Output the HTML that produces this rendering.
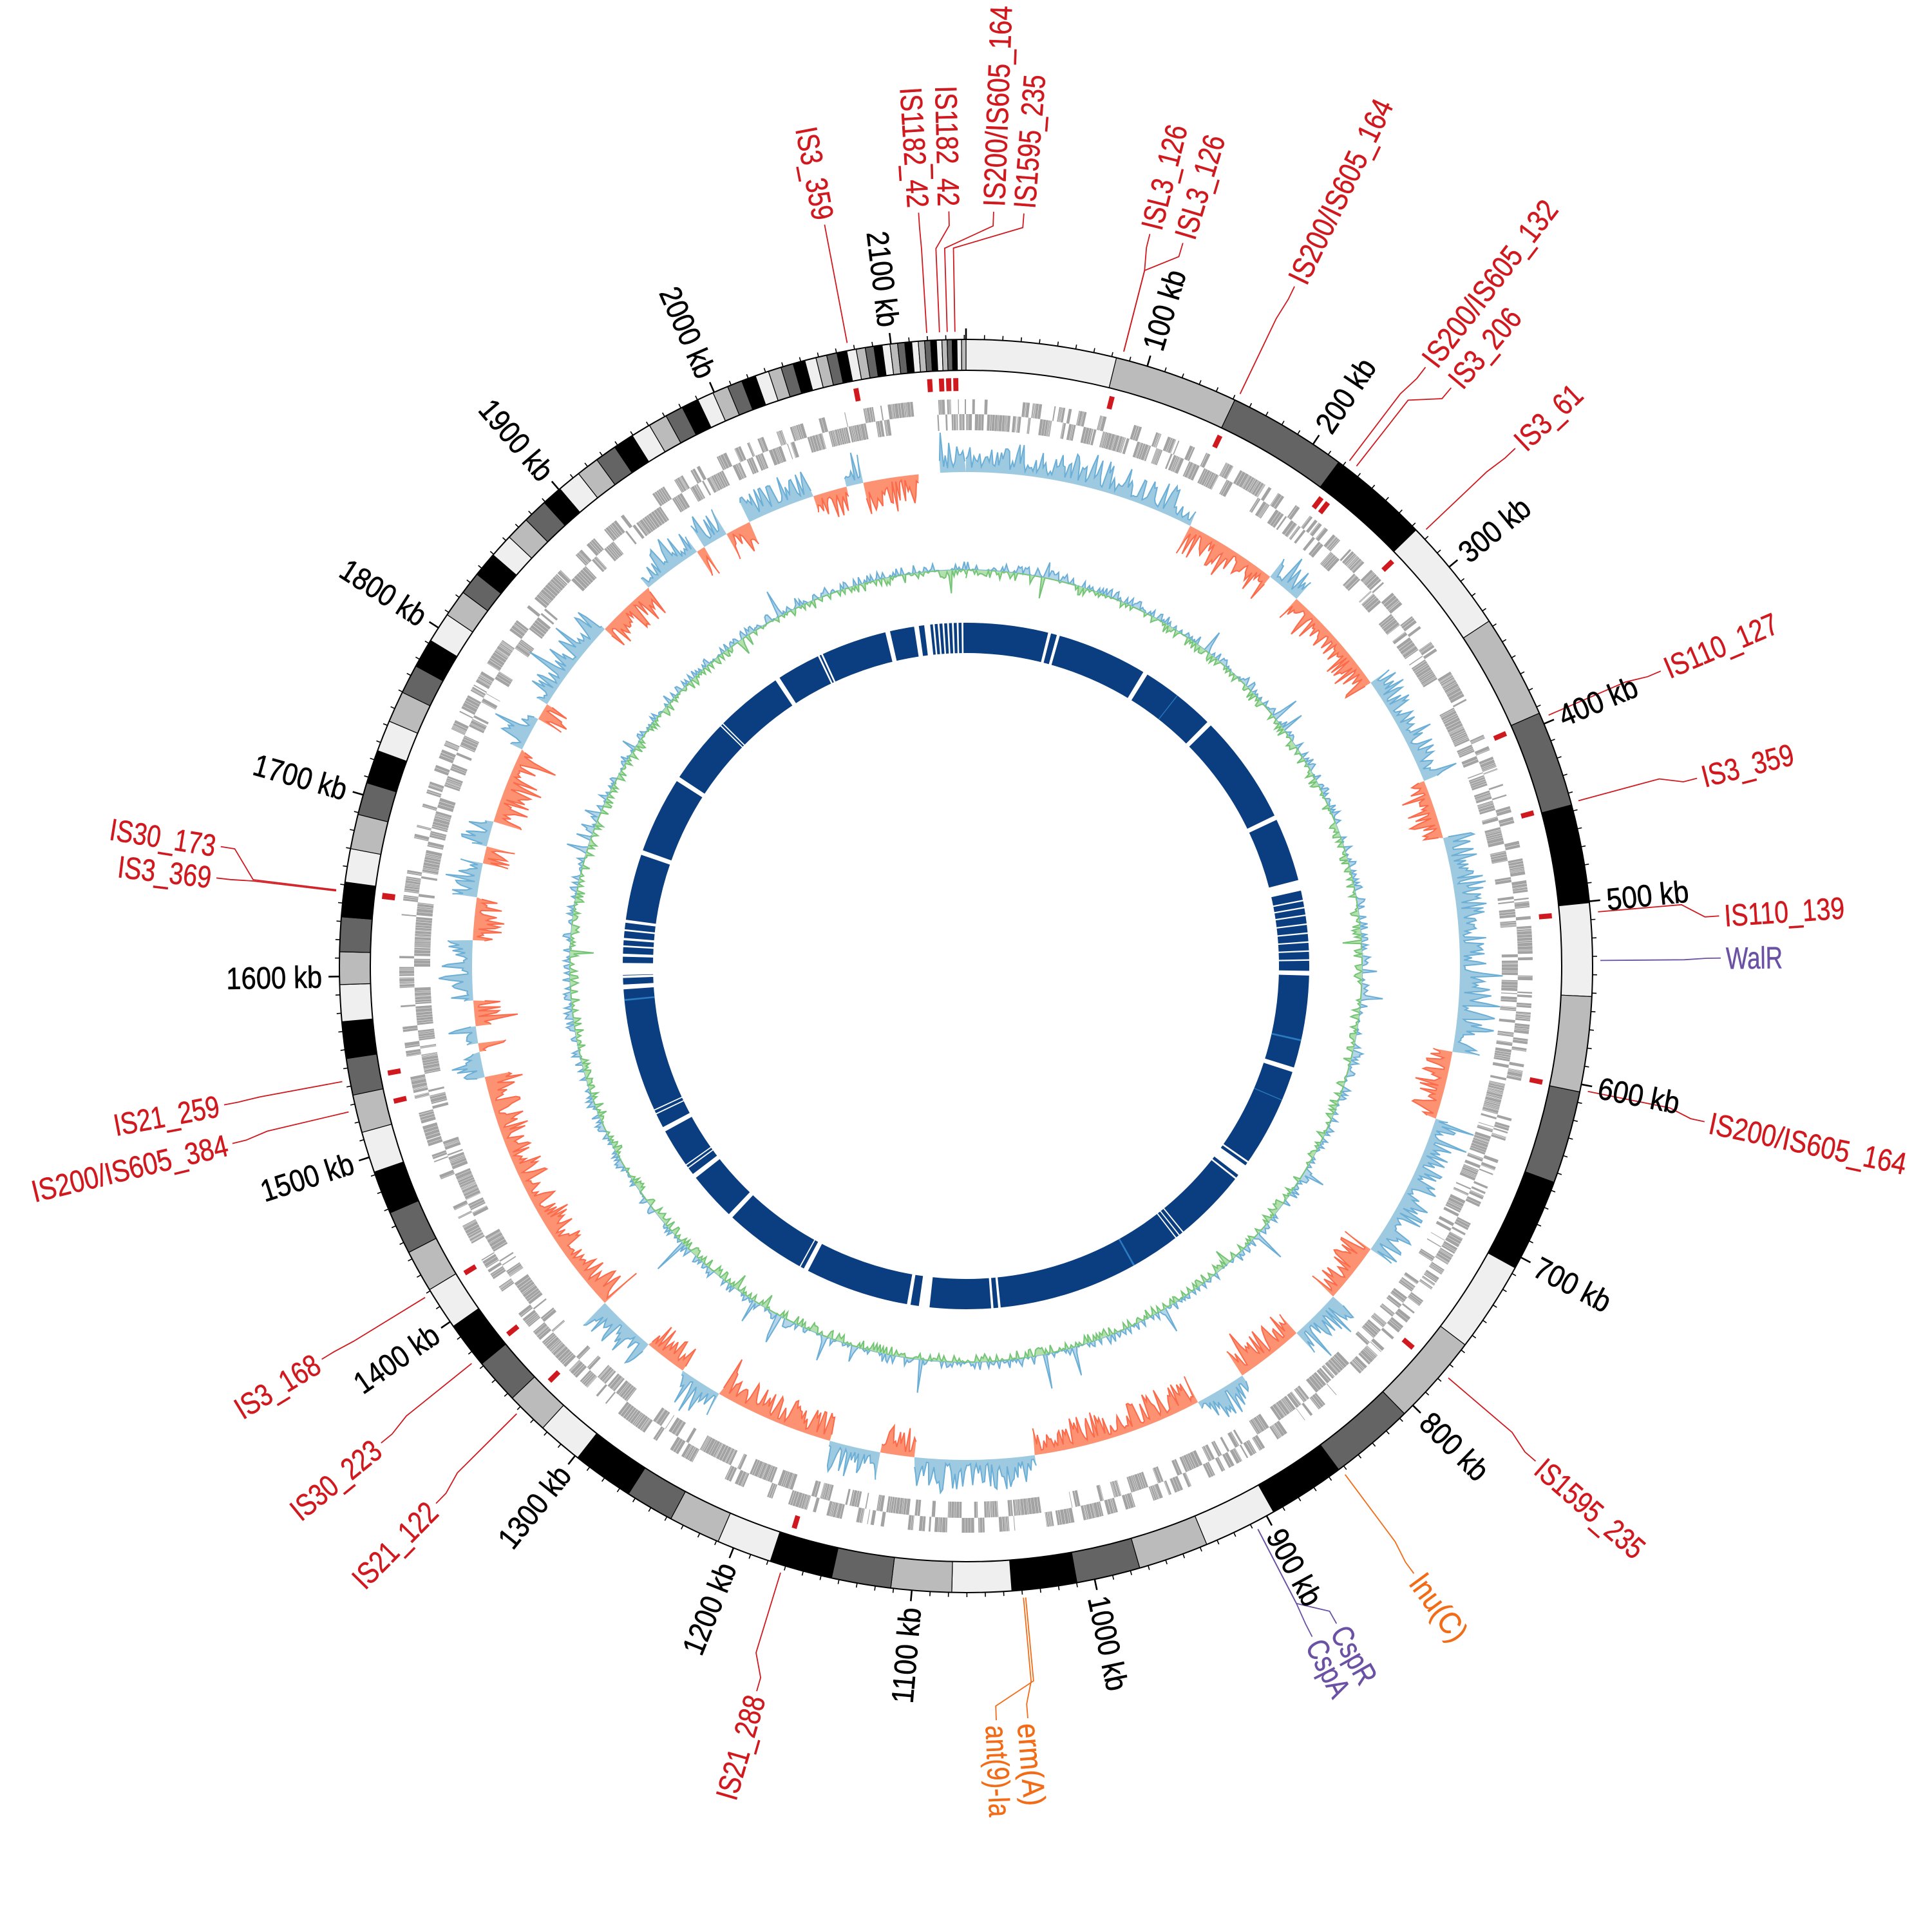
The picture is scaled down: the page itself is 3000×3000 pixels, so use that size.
<!DOCTYPE html>
<html><head><meta charset="utf-8">
<style>
html,body{margin:0;padding:0;background:#fff;}
svg{display:block;}
.t{font-family:"Liberation Sans",sans-serif;font-size:48px;}
.k{fill:#000;stroke:#000;stroke-width:0.6px;}
.r{fill:#d0191f;stroke:#d0191f;stroke-width:0.5px;}
.p{fill:#6a51a3;stroke:#6a51a3;stroke-width:0.5px;}
.o{fill:#f26b16;stroke:#f26b16;stroke-width:0.5px;}
</style></head>
<body>
<svg id="s" xmlns="http://www.w3.org/2000/svg" width="3000" height="3000" viewBox="0 0 3000 3000">
<rect width="3000" height="3000" fill="#fff"/>
<g id="g"></g>
<g class="t">
<text class="k" dy="0.35em" textLength="128" lengthAdjust="spacingAndGlyphs" transform="translate(1500,1500) rotate(-73.185) translate(1000,0)">100 kb</text>
<text class="k" dy="0.35em" textLength="128" lengthAdjust="spacingAndGlyphs" transform="translate(1500,1500) rotate(-56.37) translate(1000,0)">200 kb</text>
<text class="k" dy="0.35em" textLength="128" lengthAdjust="spacingAndGlyphs" transform="translate(1500,1500) rotate(-39.555) translate(1000,0)">300 kb</text>
<text class="k" dy="0.35em" textLength="128" lengthAdjust="spacingAndGlyphs" transform="translate(1500,1500) rotate(-22.74) translate(1000,0)">400 kb</text>
<text class="k" dy="0.35em" textLength="128" lengthAdjust="spacingAndGlyphs" transform="translate(1500,1500) rotate(-5.925) translate(1000,0)">500 kb</text>
<text class="k" dy="0.35em" textLength="128" lengthAdjust="spacingAndGlyphs" transform="translate(1500,1500) rotate(10.89) translate(1000,0)">600 kb</text>
<text class="k" dy="0.35em" textLength="128" lengthAdjust="spacingAndGlyphs" transform="translate(1500,1500) rotate(27.705) translate(1000,0)">700 kb</text>
<text class="k" dy="0.35em" textLength="128" lengthAdjust="spacingAndGlyphs" transform="translate(1500,1500) rotate(44.52) translate(1000,0)">800 kb</text>
<text class="k" dy="0.35em" textLength="128" lengthAdjust="spacingAndGlyphs" transform="translate(1500,1500) rotate(61.335) translate(1000,0)">900 kb</text>
<text class="k" dy="0.35em" textLength="149" lengthAdjust="spacingAndGlyphs" transform="translate(1500,1500) rotate(78.15) translate(1000,0)">1000 kb</text>
<text class="k" dy="0.35em" text-anchor="end" textLength="149" lengthAdjust="spacingAndGlyphs" transform="translate(1500,1500) rotate(274.965) translate(-1000,0)">1100 kb</text>
<text class="k" dy="0.35em" text-anchor="end" textLength="149" lengthAdjust="spacingAndGlyphs" transform="translate(1500,1500) rotate(291.78) translate(-1000,0)">1200 kb</text>
<text class="k" dy="0.35em" text-anchor="end" textLength="149" lengthAdjust="spacingAndGlyphs" transform="translate(1500,1500) rotate(308.595) translate(-1000,0)">1300 kb</text>
<text class="k" dy="0.35em" text-anchor="end" textLength="149" lengthAdjust="spacingAndGlyphs" transform="translate(1500,1500) rotate(325.41) translate(-1000,0)">1400 kb</text>
<text class="k" dy="0.35em" text-anchor="end" textLength="149" lengthAdjust="spacingAndGlyphs" transform="translate(1500,1500) rotate(342.225) translate(-1000,0)">1500 kb</text>
<text class="k" dy="0.35em" text-anchor="end" textLength="149" lengthAdjust="spacingAndGlyphs" transform="translate(1500,1500) rotate(359.04) translate(-1000,0)">1600 kb</text>
<text class="k" dy="0.35em" text-anchor="end" textLength="149" lengthAdjust="spacingAndGlyphs" transform="translate(1500,1500) rotate(375.855) translate(-1000,0)">1700 kb</text>
<text class="k" dy="0.35em" text-anchor="end" textLength="149" lengthAdjust="spacingAndGlyphs" transform="translate(1500,1500) rotate(392.67) translate(-1000,0)">1800 kb</text>
<text class="k" dy="0.35em" text-anchor="end" textLength="149" lengthAdjust="spacingAndGlyphs" transform="translate(1500,1500) rotate(409.485) translate(-1000,0)">1900 kb</text>
<text class="k" dy="0.35em" text-anchor="end" textLength="149" lengthAdjust="spacingAndGlyphs" transform="translate(1500,1500) rotate(426.3) translate(-1000,0)">2000 kb</text>
<text class="k" dy="0.35em" text-anchor="end" textLength="149" lengthAdjust="spacingAndGlyphs" transform="translate(1500,1500) rotate(443.115) translate(-1000,0)">2100 kb</text>

<text class="r" dy="0.35em" text-anchor="end" textLength="146" lengthAdjust="spacingAndGlyphs" transform="translate(1500,1500) rotate(439.2) translate(-1180,0)">IS3_359</text>
<text class="r" dy="0.35em" text-anchor="end" textLength="187" lengthAdjust="spacingAndGlyphs" transform="translate(1500,1500) rotate(446.4) translate(-1180,0)">IS1182_42</text>
<text class="r" dy="0.35em" text-anchor="end" textLength="187" lengthAdjust="spacingAndGlyphs" transform="translate(1500,1500) rotate(448.7) translate(-1180,0)">IS1182_42</text>
<text class="r" dy="0.35em" textLength="312" lengthAdjust="spacingAndGlyphs" transform="translate(1500,1500) rotate(-87.9) translate(1180,0)">IS200/IS605_164</text>
<text class="r" dy="0.35em" textLength="208" lengthAdjust="spacingAndGlyphs" transform="translate(1500,1500) rotate(-85.6) translate(1180,0)">IS1595_235</text>
<text class="r" dy="0.35em" textLength="166" lengthAdjust="spacingAndGlyphs" transform="translate(1500,1500) rotate(-75.9) translate(1180,0)">ISL3_126</text>
<text class="r" dy="0.35em" textLength="166" lengthAdjust="spacingAndGlyphs" transform="translate(1500,1500) rotate(-73.3) translate(1180,0)">ISL3_126</text>
<text class="r" dy="0.35em" textLength="312" lengthAdjust="spacingAndGlyphs" transform="translate(1500,1500) rotate(-64.2) translate(1180,0)">IS200/IS605_164</text>
<text class="r" dy="0.35em" textLength="312" lengthAdjust="spacingAndGlyphs" transform="translate(1500,1500) rotate(-52.5) translate(1180,0)">IS200/IS605_132</text>
<text class="r" dy="0.35em" textLength="146" lengthAdjust="spacingAndGlyphs" transform="translate(1500,1500) rotate(-50) translate(1180,0)">IS3_206</text>
<text class="r" dy="0.35em" textLength="125" lengthAdjust="spacingAndGlyphs" transform="translate(1500,1500) rotate(-43.3) translate(1180,0)">IS3_61</text>
<text class="r" dy="0.35em" textLength="187" lengthAdjust="spacingAndGlyphs" transform="translate(1500,1500) rotate(-23) translate(1180,0)">IS110_127</text>
<text class="r" dy="0.35em" textLength="146" lengthAdjust="spacingAndGlyphs" transform="translate(1500,1500) rotate(-14.4) translate(1180,0)">IS3_359</text>
<text class="r" dy="0.35em" textLength="187" lengthAdjust="spacingAndGlyphs" transform="translate(1500,1500) rotate(-3.8) translate(1180,0)">IS110_139</text>
<text class="p" dy="0.35em" textLength="88" lengthAdjust="spacingAndGlyphs" transform="translate(1500,1500) rotate(-0.6) translate(1180,0)">WalR</text>
<text class="r" dy="0.35em" textLength="312" lengthAdjust="spacingAndGlyphs" transform="translate(1500,1500) rotate(11.9) translate(1180,0)">IS200/IS605_164</text>
<text class="r" dy="0.35em" textLength="208" lengthAdjust="spacingAndGlyphs" transform="translate(1500,1500) rotate(41) translate(1180,0)">IS1595_235</text>
<text class="o" dy="0.35em" textLength="116" lengthAdjust="spacingAndGlyphs" transform="translate(1500,1500) rotate(53.6) translate(1180,0)">lnu(C)</text>
<text class="p" dy="0.35em" textLength="96" lengthAdjust="spacingAndGlyphs" transform="translate(1500,1500) rotate(60.6) translate(1180,0)">CspR</text>
<text class="p" dy="0.35em" textLength="94" lengthAdjust="spacingAndGlyphs" transform="translate(1500,1500) rotate(62.7) translate(1180,0)">CspA</text>
<text class="o" dy="0.35em" textLength="128" lengthAdjust="spacingAndGlyphs" transform="translate(1500,1500) rotate(85.3) translate(1180,0)">erm(A)</text>
<text class="o" dy="0.35em" textLength="142" lengthAdjust="spacingAndGlyphs" transform="translate(1500,1500) rotate(87.7) translate(1180,0)">ant(9)-Ia</text>
<text class="r" dy="0.35em" text-anchor="end" textLength="166" lengthAdjust="spacingAndGlyphs" transform="translate(1500,1500) rotate(286.1) translate(-1180,0)">IS21_288</text>
<text class="r" dy="0.35em" text-anchor="end" textLength="166" lengthAdjust="spacingAndGlyphs" transform="translate(1500,1500) rotate(314.6) translate(-1180,0)">IS21_122</text>
<text class="r" dy="0.35em" text-anchor="end" textLength="166" lengthAdjust="spacingAndGlyphs" transform="translate(1500,1500) rotate(320.8) translate(-1180,0)">IS30_223</text>
<text class="r" dy="0.35em" text-anchor="end" textLength="146" lengthAdjust="spacingAndGlyphs" transform="translate(1500,1500) rotate(328.6) translate(-1180,0)">IS3_168</text>
<text class="r" dy="0.35em" text-anchor="end" textLength="312" lengthAdjust="spacingAndGlyphs" transform="translate(1500,1500) rotate(346.4) translate(-1180,0)">IS200/IS605_384</text>
<text class="r" dy="0.35em" text-anchor="end" textLength="166" lengthAdjust="spacingAndGlyphs" transform="translate(1500,1500) rotate(349.4) translate(-1180,0)">IS21_259</text>
<text class="r" dy="0.35em" text-anchor="end" textLength="146" lengthAdjust="spacingAndGlyphs" transform="translate(1500,1500) rotate(366.7) translate(-1180,0)">IS3_369</text>
<text class="r" dy="0.35em" text-anchor="end" textLength="166" lengthAdjust="spacingAndGlyphs" transform="translate(1500,1500) rotate(369.1) translate(-1180,0)">IS30_173</text>
</g>
</svg>
<script>
(function(){
const NS='http://www.w3.org/2000/svg';
const g=document.getElementById('g');
function el(tag,a){const e=document.createElementNS(NS,tag);for(const k in a)e.setAttribute(k,a[k]);g.appendChild(e);return e;}
function P(a,r){const t=a*Math.PI/180;return (1500+r*Math.sin(t)).toFixed(1)+','+(1500-r*Math.cos(t)).toFixed(1);}
function sec(a0,a1,r0,r1){const la=(a1-a0)>180?1:0;return 'M'+P(a0,r1)+'A'+r1+','+r1+' 0 '+la+' 1 '+P(a1,r1)+'L'+P(a1,r0)+'A'+r0+','+r0+' 0 '+la+' 0 '+P(a0,r0)+'Z';}
function rng(s){return function(){s|=0;s=s+0x6D2B79F5|0;let t=Math.imul(s^s>>>15,1|s);t=t+Math.imul(t^t>>>7,61|t)^t;return((t^t>>>14)>>>0)/4294967296;};}

el('circle',{cx:1500,cy:1500,r:509.5,fill:'none',stroke:'#0b3e80','stroke-width':47});
const gaps=[[14.1,0.5],[15.6,0.5],[31.5,0.8],[45.1,0.8],[64.4,0.8],[76.4,1.8],[79,0.25],[80.2,0.25],[81.5,0.25],[83,0.25],[84.5,0.25],[86,0.25],[87.5,0.25],[89,0.25],[91.2,0.8],[107.6,0.8],[124.8,0.3],[126.5,2.0],[128.2,0.3],[140.8,0.2],[141.6,0.2],[142.3,0.2],[174.4,0.4],[175.6,0.4],[187,1.8],[189.6,0.6],[207.8,0.8],[208.9,0.2],[223.3,0.8],[232.3,0.8],[234,0.2],[234.6,0.2],[241.6,0.8],[244.5,0.2],[245.2,0.2],[266.5,0.8],[268.2,0.4],[269.5,2.0],[271.8,0.5],[273.3,0.3],[274.5,0.4],[276,0.3],[277.5,0.5],[289.3,0.8],[303,0.8],[314.4,0.2],[314.9,0.2],[326.7,0.8],[334.6,0.3],[335.2,0.3],[346.8,0.8],[351.7,0.8],[353.5,1.0],[354.6,0.3],[355.4,0.3],[356.2,0.3],[357,0.3],[357.8,0.3],[358.6,0.3],[359.4,0.3]];
let d='';gaps.forEach(x=>{d+=sec(x[0]-x[1]/2,x[0]+x[1]/2,484,536);});
el('path',{d:d,fill:'#fff'});
d='';[[102.5,0.3],[150.7,0.3],[264.3,0.3],[38,0.15],[113,0.15]].forEach(x=>{d+=sec(x[0]-x[1]/2,x[0]+x[1]/2,486,533);});
el('path',{d:d,fill:'#2b7bc0'});

let R=rng(7);
const base=615;let vs=[];
for(let a=0;a<=360.001;a+=0.25){let v=(R()-0.5)*26;if(R()<0.04)v+=(R()-0.35)*80;vs.push([a,v]);}
function area(sign,fill,stroke){let up='';vs.forEach((p,i)=>{const v=sign>0?Math.max(p[1],0):Math.min(p[1],0);const q=P(p[0],base+v);up+=(i?'L':'M')+q;});
 el('path',{d:up+'L'+P(360,base)+'A'+base+','+base+' 0 1 0 '+P(180,base)+'A'+base+','+base+' 0 1 0 '+P(0,base)+'Z',fill:fill,stroke:'none'});
 el('path',{d:up,fill:'none',stroke:stroke,'stroke-width':2});}
area(1,'#b5d5ea','#6baed6');area(-1,'#b4e0ad','#74c476');

R=rng(11);
const sb=767;
const regs=[[0,27,1],[27,38,-1],[38,42,1],[42,55,-1],[55,68,1],[68,75,-1],[75,100,1],[100,108,-1],[108,125,1],[125,132,-1],[132,138,1],[138,146,-1],[146,152,1],[152,172,-1],[172,186,1],[186,190,-1],[190,196,1],[196,210,-1],[210,215,1],[215,220,-1],[220,227,1],[227,257,-1],[257,260,1],[260,261,-1],[261,263,1],[263,266,-1],[266,273,1],[273,278,-1],[278,282,1],[282,284,-1],[284,287,1],[287,296,-1],[296,300,1],[300,302,-1],[302,313,1],[313,320,-1],[320,327,1],[327,328,-1],[328,331,1],[331,334,-1],[334,342,1],[342,346,-1],[346,348,1],[348,354.5,-1],[357,360,1]];
regs.forEach(rg=>{const [a0,a1,s]=rg;let pts='M'+P(a0,sb);let line='';let first=true;
 for(let a=a0;a<=a1+0.001;a+=0.22){let v=6+Math.pow(R(),1.6)*42;if(R()<0.05)v+=20;const q=P(Math.min(a,a1),sb+s*v);pts+='L'+q;line+=(first?'M':'L')+q;first=false;}
 pts+='L'+P(a1,sb)+'A'+sb+','+sb+' 0 0 0 '+P(a0,sb)+'Z';
 el('path',{d:pts,fill:s>0?'#9ecae1':'#fc9272'});
 el('path',{d:line,fill:'none',stroke:s>0?'#6baed6':'#fb6a4a','stroke-width':2});
});

R=rng(23);
let ga='',a=0,row=0;
while(a<360){if(R()<0.25)row=1-row;const len=0.05+R()*0.3;
 const r0=row?832:857,r1=row?857:880;
 if(!(a>354.6&&a<356.8)) ga+=sec(a,Math.min(a+len,360),r0,r1);
 a+=len+0.03+(R()<0.03?R()*0.4:0);}
el('path',{d:ga,fill:'#a3a3a3'});

const B=[0,13.9,25.4,36.5,45.9,56.6,66.2,75.1,84.2,92.8,101.6,110.2,118.8,127.2,135.6,143.5,150.6,157.4,163.9,169.8,175.8,181.3,186.9,192.4,198.2,203.3,208.1,212.6,218.3,222.5,226.4,230.6,234.9,238.9,242.8,246.8,250.8,254.6,258.1,261.5,264.9,268.3,271.3,274.5,277.7,280.8,284.0,287.0,290.1,293.0,295.9,298.6,301.3,304.1,306.6,308.7,311.0,313.2,315.4,317.7,319.6];
let aa=319.6,w=2.2;while(aa+w<359.8){aa+=w;B.push(aa);w*=0.955;}B.push(360);
const cols=['#efefef','#bbbbbb','#646464','#000000'];
for(let i=0;i<B.length-1;i++){el('path',{d:sec(B[i],B[i+1],925,973),fill:cols[i%4],stroke:'#000','stroke-width':1.2});}
el('circle',{cx:1500,cy:1500,r:973,fill:'none',stroke:'#000','stroke-width':2});
el('circle',{cx:1500,cy:1500,r:925,fill:'none',stroke:'#000','stroke-width':2});

let tk='',tM='';
for(let kb=0;kb<=2140;kb+=10){const an=kb*0.16815;if(kb%100===0)tM+='M'+P(an,973)+'L'+P(an,990);else tk+='M'+P(an,973)+'L'+P(an,980);}
el('path',{d:tk,stroke:'#000','stroke-width':1.6,fill:'none'});
el('path',{d:tM,stroke:'#000','stroke-width':2.6,fill:'none'});

const L=[[349.2,349.2,'r'],[356.4,356.45,'r'],[358.7,357.6,'r'],[2.1,358.3,'r'],[4.4,359.0,'r'],[14.1,14.4,'r'],[16.7,14.4,'r'],[25.8,25.6,'r'],[37.5,37.2,'r'],[40.0,38.0,'r'],[46.7,46.5,'r'],[67.0,66.7,'r'],[75.6,74.9,'r'],[86.2,85.1,'r'],[89.4,89.5,'p'],[101.9,101.4,'r'],[131.0,130.5,'r'],[143.6,143.3,'o'],[150.6,152.6,'p'],[152.7,152.6,'p'],[175.3,174.8,'o'],[177.7,174.6,'o'],[196.1,197.0,'r'],[224.6,225.1,'r'],[230.8,231.2,'r'],[238.6,238.5,'r'],[256.4,256.7,'r'],[259.4,259.5,'r'],[276.7,276.8,'r'],[279.1,276.9,'r']];
const C={r:'#d0191f',p:'#6a51a3',o:'#f26b16'};
let mk='';
L.forEach(x=>{const [tl,ta,c]=x;
 el('path',{d:'M'+P(ta,985)+'L'+P(ta,1115)+'L'+P(tl,1150)+'L'+P(tl,1172),fill:'none',stroke:C[c],'stroke-width':1.8});
 if(c==='r')mk+=sec(ta-0.25,ta+0.25,893,913);
});
el('path',{d:mk,fill:'#d0191f'});
})();
</script>
</body></html>
